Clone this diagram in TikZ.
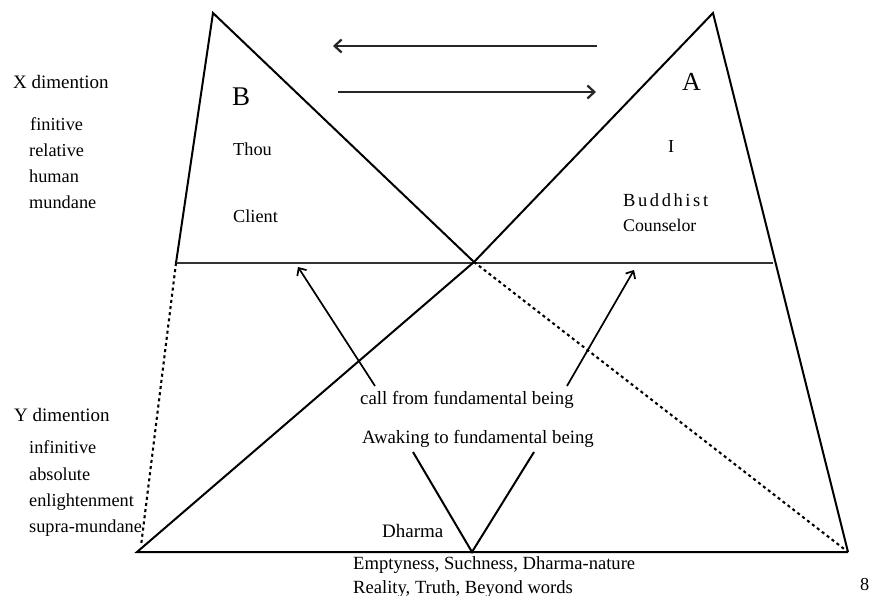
\documentclass[tikz,border=0pt]{standalone}
\usepackage{fontspec}
\setmainfont{Liberation Serif}
\usetikzlibrary{arrows.meta}
\begin{document}
\begin{tikzpicture}[x=1pt,y=-1pt,
  txt/.style={anchor=base west,inner sep=0pt,font=\fontsize{18.3}{20}\selectfont},
  big/.style={anchor=base west,inner sep=0pt,font=\fontsize{26}{28}\selectfont},
  edge/.style={line width=2pt,line join=miter},
  midline/.style={line width=2.8pt,draw=black!80},
  dotline/.style={line width=2.1pt,dash pattern=on 3pt off 3.2pt},
  toparrow/.style={line width=2.5pt,draw=black!85,-{Straight Barb[length=7pt,width=13pt,line width=2.2pt]}},
  callarrow/.style={line width=1.7pt,-{Straight Barb[length=6pt,width=11pt,line width=1.7pt]}}]
\useasboundingbox[fill=white] (0,0) rectangle (871,596);
% vertices
\coordinate (Bt) at (213,13);
\coordinate (At) at (713,13);
\coordinate (Lm) at (176,263);
\coordinate (C)  at (474,262);
\coordinate (Rm) at (773,263);
\coordinate (Lb) at (137,552);
\coordinate (Ld) at (141,546);
\coordinate (Rb) at (848,552);
\coordinate (Vb) at (472,552);
\coordinate (Vl) at (413,452);
\coordinate (Vr) at (534,452);
% top arrows
\coordinate (u1) at (597,46);
\coordinate (u2) at (333,46);
\coordinate (l1) at (338,92);
\coordinate (l2) at (596,92);
% call arrows
\coordinate (cl1) at (375,386);
\coordinate (cl2) at (298,267);
\coordinate (cr1) at (567,386);
\coordinate (cr2) at (634,270);
% shapes
\draw[edge] (Lm) -- (Bt) -- (C);
\draw[midline] (Lm) -- (Rm);
\draw[edge] (Rb) -- (At) -- (C) -- (Lb) -- (Rb);
\draw[dotline] (Lm) -- (Ld);
\draw[dotline] (C) -- (Rb);
\draw[edge] (Vl) -- (Vb) -- (Vr);
\draw[toparrow] (u1) -- (u2);
\draw[toparrow] (l1) -- (l2);
\draw[callarrow] (cl1) -- (cl2);
\draw[callarrow] (cr1) -- (cr2);
% left labels
\node[txt,font=\fontsize{19}{20}\selectfont] (xd) at (13,89) {X dimention};
\node[txt] (x1) at (30,131) {finitive};
\node[txt] (x2) at (29,157) {relative};
\node[txt] (x3) at (29,183) {human};
\node[txt] (x4) at (29,209) {mundane};
\node[txt,font=\fontsize{19}{20}\selectfont] (yd) at (14,421) {Y dimention};
\node[txt] (y1) at (29,453) {infinitive};
\node[txt] (y2) at (29,480) {absolute};
\node[txt] (y3) at (29,506) {enlightenment};
\node[txt] (y4) at (29,532) {supra-mundane};
% triangle labels
\node[big,font=\fontsize{27}{28}\selectfont] (B) at (232,106) {B};
\node[txt] (thou) at (233,156) {Thou};
\node[txt] (client) at (233,223) {Client};
\node[big] (A) at (682,91) {A};
\node[txt] (I) at (668,153) {I};
\node[txt,font=\fontsize{18.5}{20}\selectfont\addfontfeature{LetterSpace=14}] (bud) at (623,207) {Buddhist};
\node[txt,font=\fontsize{17.8}{20}\selectfont] (coun) at (623,232) {Counselor};
% center labels
\node[txt,font=\fontsize{18.8}{20}\selectfont] (call) at (360,404) {call from fundamental being};
\node[txt,font=\fontsize{18.8}{20}\selectfont] (awak) at (362,443) {Awaking to fundamental being};
\node[txt,font=\fontsize{19}{20}\selectfont] (dh) at (382,537) {Dharma};
\node[txt,font=\fontsize{18.6}{20}\selectfont] (emp) at (353,569) {Emptyness, Suchness, Dharma-nature};
\node[txt,font=\fontsize{18.6}{20}\selectfont] (real) at (353,593) {Reality, Truth, Beyond words};
\node[txt] (pg) at (860,590) {8};
\end{tikzpicture}
\end{document}
